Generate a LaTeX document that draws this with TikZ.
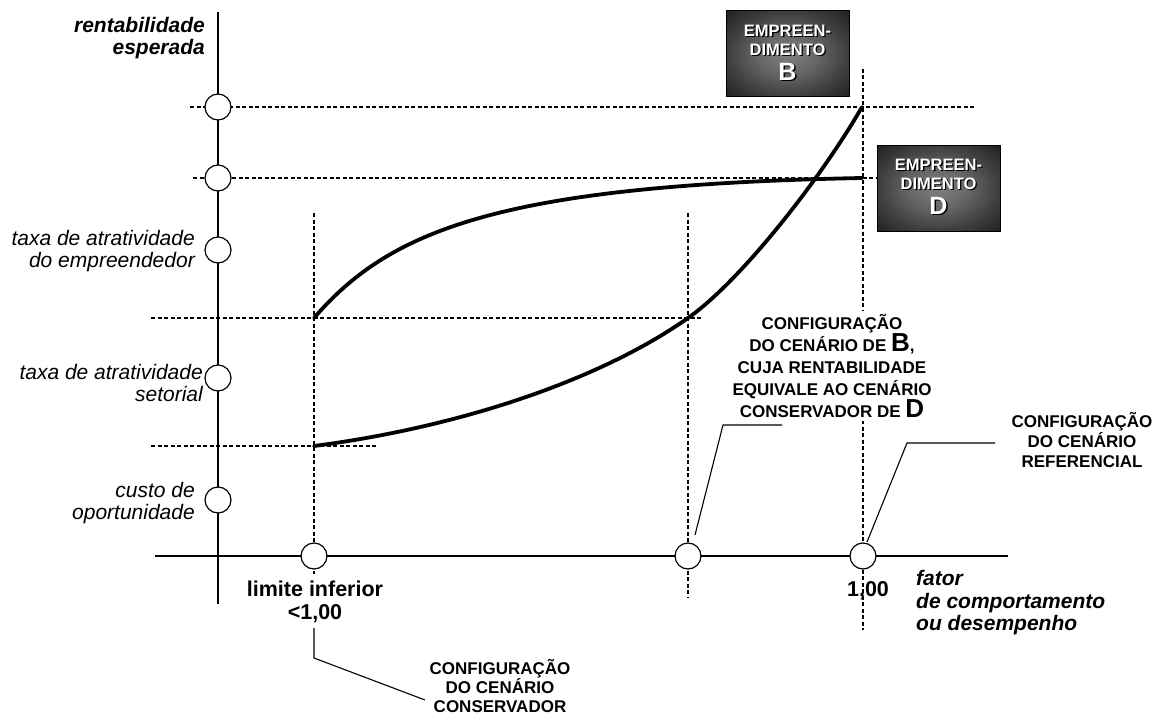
\documentclass[tikz,border=0pt]{standalone}
\usepackage{fontspec}
\setmainfont{Liberation Sans}
\usetikzlibrary{calc}
% white box lettering with a dark drop shadow
\newcommand\shtxt[1]{\rlap{\kern1.3pt\raisebox{-1.3pt}{\color{black}#1}}#1}
\pgfdeclareradialshading{boxglow}{\pgfpoint{0bp}{0bp}}{%
  color(0bp)=(black!50); color(12bp)=(black!60); color(24bp)=(black!75);
  color(36bp)=(black!88); color(45bp)=(black!95); color(50bp)=(black!98);
  color(100bp)=(black)}
\begin{document}
\begin{tikzpicture}[x=1pt,y=-1pt,
  axisline/.style={line width=1.3pt},
  guide/.style={line width=1.5pt, dash pattern=on 4pt off 2.5pt},
  curveline/.style={line width=3.8pt, line cap=round},
  leader/.style={line width=1.1pt},
  tickdot/.style={circle, draw, line width=1.2pt, fill=white, minimum size=26pt, inner sep=0pt},
  axislabel/.style={font=\fontsize{21}{22.5}\selectfont\itshape, align=right, anchor=east, inner sep=0pt},
  boldlabel/.style={font=\fontsize{21}{22.5}\selectfont\bfseries\itshape, inner sep=0pt},
  numlabel/.style={font=\fontsize{21.5}{23}\selectfont\bfseries, align=center, inner sep=0pt},
  caption/.style={align=center, inner sep=0pt},
  empbox/.style={minimum width=123pt, minimum height=86pt, inner sep=0pt,
    shading=boxglow, draw=black, line width=1pt},
  boxtext/.style={font=\fontsize{16.5}{19}\selectfont\bfseries, align=center, text=white, inner sep=0pt},
]
\useasboundingbox (0,0) rectangle (1160,717);

% dashed guide lines
\draw[guide] (190,107) -- (975,107);
\draw[guide] (193,178) -- (877,178);
\draw[guide] (151,318) -- (702,318);
\draw[guide] (151,446) -- (377,446);
\draw[guide] (314,213) -- (314,574);
\draw[guide] (688,213) -- (688,598);
\draw[guide] (863,69) -- (863,630);

% axes
\draw[axisline] (218,12) -- (218,604);
\draw[axisline] (155,556) -- (1008,556);

% curves of the two ventures
\draw[curveline] (314,318) .. controls (390,230) and (500,185) .. (862,178);
\draw[curveline] (314,446) .. controls (460,427) and (600,380) .. (688,318)
                           .. controls (740,281.6) and (820,180) .. (862,107);

% markers on the axes
\node[tickdot] (cy1) at (218,107) {};
\node[tickdot] (cy2) at (218,178) {};
\node[tickdot] (cy3) at (218,250) {};
\node[tickdot] (cy4) at (218,378) {};
\node[tickdot] (cy5) at (218,500) {};
\node[tickdot] (cx1) at (314,556) {};
\node[tickdot] (cx2) at (688,556) {};
\node[tickdot] (cx3) at (863,556) {};

% vertical axis labels
\node[boldlabel, align=right, anchor=east] (ylab) at (205,38) {rentabilidade\\esperada};
\node[axislabel] (l3) at (195,251) {taxa de atratividade\\do empreendedor};
\node[axislabel] (l4) at (203,383) {taxa de atratividade\\setorial};
\node[axislabel] (l5) at (195,503) {custo de\\oportunidade};

% horizontal axis labels
\node[numlabel] (lim) at (315,602) {limite inferior\\<1,00};
\node[numlabel] (one) at (868,591) {1,00};
\node[boldlabel, align=left, anchor=west] (xlab) at (916,603) {fator\\de comportamento\\ou desempenho};

% captions
\node[caption, fill=white, inner sep=3pt, font=\fontsize{17}{22}\selectfont\bfseries] (capB) at (832,366)
  {CONFIGURAÇÃO\\DO CENÁRIO DE {\fontsize{26}{26}\selectfont B},\\CUJA RENTABILIDADE\\EQUIVALE AO CENÁRIO\\CONSERVADOR DE {\fontsize{26}{26}\selectfont D}};
\node[caption, font=\fontsize{17}{20}\selectfont\bfseries] (capR) at (1082,440)
  {CONFIGURAÇÃO\\DO CENÁRIO\\REFERENCIAL};
\node[caption, font=\fontsize{17}{19}\selectfont\bfseries] (capC) at (500,686)
  {CONFIGURAÇÃO\\DO CENÁRIO\\CONSERVADOR};

% leader lines
\coordinate (pB1) at (695,535);
\coordinate (pB2) at (723,425);
\coordinate (pB3) at (782,425);
\draw[leader] (pB1) -- (pB2) -- (pB3);
\coordinate (pR1) at (867,542);
\coordinate (pR2) at (907,443);
\coordinate (pR3) at (995,443);
\draw[leader] (pR1) -- (pR2) -- (pR3);
\coordinate (pC1) at (314,628);
\coordinate (pC2) at (314,658);
\coordinate (pC3) at (425,700);
\draw[leader] (pC1) -- (pC2) -- (pC3);

% venture boxes
\node[empbox] (boxB) at (787.5,54) {};
\node[boxtext] (txtB) at ($(boxB.center)+(0,-1)$)
  {\shtxt{EMPREEN-}\\\shtxt{DIMENTO}\\[6pt]\shtxt{{\fontsize{25}{25}\selectfont B}}};
\node[empbox] (boxD) at (938.5,188) {};
\node[boxtext] (txtD) at ($(boxD.center)+(0,-1)$)
  {\shtxt{EMPREEN-}\\\shtxt{DIMENTO}\\[6pt]\shtxt{{\fontsize{25}{25}\selectfont D}}};
\end{tikzpicture}
\end{document}
